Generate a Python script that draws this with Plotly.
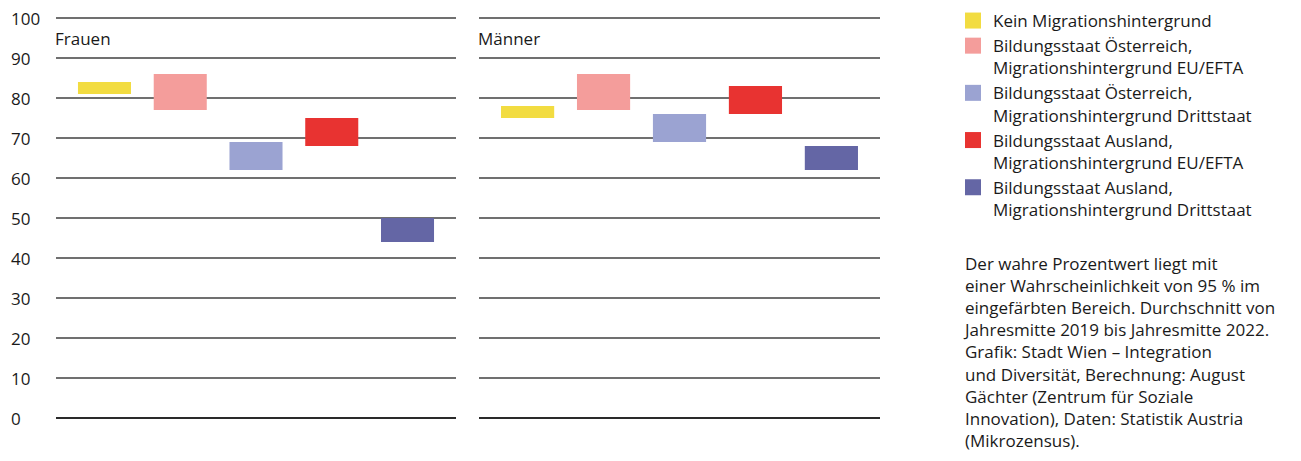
import plotly.graph_objects as go

categories = ["Kein Migrationshintergrund",
              "Bildungsstaat Österreich,<br>Migrationshintergrund EU/EFTA",
              "Bildungsstaat Österreich,<br>Migrationshintergrund Drittstaat",
              "Bildungsstaat Ausland,<br>Migrationshintergrund EU/EFTA",
              "Bildungsstaat Ausland,<br>Migrationshintergrund Drittstaat"]
colors = ["#f2dc41", "#f49d9b", "#9ba3d2", "#e83331", "#6466a5"]
panels = ["Frauen", "Männer"]
frauen_low = [81, 77, 62, 68, 44]
frauen_high = [84, 86, 69, 75, 50]
maenner_low = [75, 77, 69, 76, 62]
maenner_high = [78, 86, 76, 83, 68]
tick_values = [0, 10, 20, 30, 40, 50, 60, 70, 80, 90, 100]
tick_labels = [str(v) for v in tick_values]
note = ("Der wahre Prozentwert liegt mit<br>einer Wahrscheinlichkeit von 95 % im<br>"
        "eingefärbten Bereich. Durchschnitt von<br>Jahresmitte 2019 bis Jahresmitte 2022.<br>"
        "Grafik: Stadt Wien – Integration<br>und Diversität, Berechnung: August<br>"
        "Gächter (Zentrum für Soziale<br>Innovation), Daten: Statistik Austria<br>(Mikrozensus).")

W, H = 1301, 461
FONT = "Open Sans"
TXT = "#1a1a1a"
FS = 17

fig = go.Figure()
data = [(frauen_low, frauen_high), (maenner_low, maenner_high)]
for p, (lo, hi) in enumerate(data):
    xa = "x" if p == 0 else "x2"
    ya = "y" if p == 0 else "y2"
    for i in range(len(categories)):
        fig.add_trace(go.Bar(x=[i], y=[hi[i] - lo[i]], base=[lo[i]], width=0.7,
                             marker=dict(color=colors[i], line=dict(width=0)),
                             xaxis=xa, yaxis=ya, showlegend=False, hoverinfo="skip"))

for i, c in enumerate(categories):
    fig.add_trace(go.Scatter(x=[None], y=[None], mode="markers", name=c,
                             marker=dict(symbol="square", size=16, color=colors[i]),
                             showlegend=True))

def px_x(v):
    return v / W

def px_y(v):
    return 1 - v / H

# 4 px per unit, 100 at y=18 px, 0 at y=418 px; pad range by 0.5 units
ydom = [px_y(420), px_y(16)]
xr = [-0.64, 4.64]
axis_common = dict(showgrid=False, zeroline=False, showticklabels=False, ticks="",
                   fixedrange=True)
yaxis_common = dict(range=[-0.5, 100.5], tickvals=tick_values, showgrid=True,
                    gridcolor="#707070", gridwidth=1.5, zeroline=True,
                    zerolinecolor="#2a2a2a", zerolinewidth=1.5, fixedrange=True,
                    showticklabels=False, ticks="", showline=False, domain=ydom)
fig.update_layout(
    width=W, height=H, margin=dict(l=0, r=0, t=0, b=0),
    paper_bgcolor="white", plot_bgcolor="white",
    font=dict(family=FONT, size=FS, color=TXT),
    barmode="overlay",
    xaxis=dict(domain=[px_x(56), px_x(456)], range=xr, **axis_common),
    xaxis2=dict(domain=[px_x(479), px_x(880)], range=xr, **axis_common),
    yaxis=dict(**yaxis_common),
    yaxis2=dict(anchor="x2", **yaxis_common),
    legend=dict(x=px_x(953), y=px_y(3), xanchor="left", yanchor="top",
                font=dict(family=FONT, size=FS, color=TXT), valign="top",
                tracegroupgap=0, itemwidth=30, bgcolor="rgba(0,0,0,0)"),
    showlegend=True,
)

annotations = []
for v, t in zip(tick_values, tick_labels):
    annotations.append(dict(x=px_x(9), xref="paper", y=v, yref="y", text=t,
                            xanchor="left", yanchor="middle", showarrow=False,
                            font=dict(family=FONT, size=FS, color=TXT)))
for p, name in enumerate(panels):
    annotations.append(dict(x=px_x(53 if p == 0 else 476), xref="paper", y=95,
                            yref="y", text=name, xanchor="left", yanchor="middle",
                            showarrow=False, font=dict(family=FONT, size=FS, color=TXT)))
annotations.append(dict(x=px_x(961), xref="paper", y=px_y(250), yref="paper",
                        text=note, align="left", xanchor="left", yanchor="top",
                        showarrow=False, font=dict(family=FONT, size=FS, color=TXT)))
fig.update_layout(annotations=annotations)

fig.write_html("out.html", config={"displayModeBar": False},
               post_script="document.body.style.margin='0px';")
